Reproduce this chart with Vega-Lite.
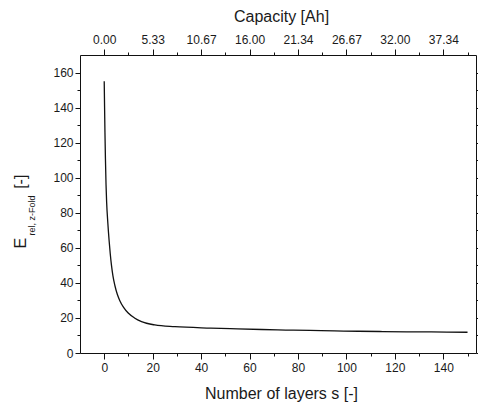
{
  "$schema": "https://vega.github.io/schema/vega-lite/v6.json",
  "width": 396,
  "height": 298,
  "autosize": {"type": "none"},
  "padding": {"left": 80, "top": 55, "right": 2, "bottom": 52},
  "background": "white",
  "config": {
    "view": {"stroke": null},
    "font": "Liberation Sans",
    "axis": {
      "domainColor": "#111",
      "tickColor": "#111",
      "labelColor": "#1a1a1a",
      "titleColor": "#1a1a1a",
      "labelFont": "Liberation Sans",
      "titleFont": "Liberation Sans",
      "labelFontSize": 12,
      "titleFontSize": 16,
      "titleFontWeight": "normal",
      "grid": false,
      "domainWidth": 1,
      "tickWidth": 1
    }
  },
  "data": {
    "values": [
      {"s": 0, "E": 155},
      {"s": 0.15, "E": 140},
      {"s": 0.3, "E": 126},
      {"s": 0.5, "E": 111},
      {"s": 0.75, "E": 96},
      {"s": 1.0, "E": 86},
      {"s": 1.5, "E": 74},
      {"s": 2.0, "E": 64.5},
      {"s": 2.5, "E": 56.5},
      {"s": 3.0, "E": 50},
      {"s": 3.6, "E": 44},
      {"s": 4.4, "E": 38.5},
      {"s": 5.4, "E": 33.5},
      {"s": 6.4, "E": 30},
      {"s": 8.0, "E": 26},
      {"s": 9.9, "E": 22.8},
      {"s": 12.5, "E": 20},
      {"s": 15.4, "E": 17.9},
      {"s": 20.9, "E": 16.0},
      {"s": 29.2, "E": 15.0},
      {"s": 44, "E": 14.2},
      {"s": 55, "E": 13.75},
      {"s": 65, "E": 13.4},
      {"s": 75, "E": 13.1},
      {"s": 85, "E": 12.85},
      {"s": 95, "E": 12.6},
      {"s": 105, "E": 12.4},
      {"s": 115, "E": 12.25},
      {"s": 125, "E": 12.1},
      {"s": 135, "E": 12.0},
      {"s": 150, "E": 11.85}
    ]
  },
  "layer": [
    {
      "mark": {"type": "line", "color": "#111", "strokeWidth": 1.3, "interpolate": "monotone"},
      "encoding": {
        "x": {
          "field": "s",
          "type": "quantitative",
          "scale": {"domain": [-10, 153.5], "nice": false, "zero": false},
          "axis": {
            "orient": "bottom",
            "values": [0, 10, 20, 30, 40, 50, 60, 70, 80, 90, 100, 110, 120, 130, 140, 150],
            "tickSize": {"condition": {"test": "datum.value % 20 === 0", "value": 6}, "value": 3},
            "labelExpr": "datum.value % 20 === 0 ? datum.label : ''",
            "labelPadding": 3,
            "title": "Number of layers s [-]",
            "titleX": 201,
            "titleY": 45,
            "titleBaseline": "alphabetic"
          }
        },
        "y": {
          "field": "E",
          "type": "quantitative",
          "scale": {"domain": [0, 170], "nice": false},
          "axis": {
            "orient": "left",
            "values": [0, 10, 20, 30, 40, 50, 60, 70, 80, 90, 100, 110, 120, 130, 140, 150, 160],
            "tickSize": {"condition": {"test": "datum.value % 20 === 0", "value": 5}, "value": 3},
            "labelExpr": "datum.value % 20 === 0 ? datum.label : ''",
            "labelPadding": 2,
            "title": "E\u00a0\u00a0\u00a0\u00a0\u00a0\u00a0\u00a0\u00a0\u00a0\u00a0\u00a0[-]",
            "titleAngle": 270,
            "titleX": -55,
            "titleY": 156,
            "titleAlign": "center",
            "titleBaseline": "alphabetic"
          }
        }
      }
    },
    {
      "mark": {"type": "line", "opacity": 0},
      "encoding": {
        "x": {
          "field": "s",
          "type": "quantitative",
          "scale": {"domain": [-10, 153.5], "nice": false, "zero": false},
          "axis": {
            "orient": "top",
            "values": [0, 10, 20, 30, 40, 50, 60, 70, 80, 90, 100, 110, 120, 130, 140, 150],
            "tickSize": {"condition": {"test": "datum.value % 20 === 0", "value": 6}, "value": 3},
            "labelExpr": "datum.value % 20 === 0 ? format(datum.value * 0.2667, '.2f') : ''",
            "labelPadding": 3,
            "title": "Capacity [Ah]",
            "titleX": 201,
            "titleY": -33.5,
            "titleBaseline": "alphabetic"
          }
        },
        "y": {
          "field": "E",
          "type": "quantitative",
          "scale": {"domain": [0, 170], "nice": false},
          "axis": {
            "orient": "right",
            "values": [0, 10, 20, 30, 40, 50, 60, 70, 80, 90, 100, 110, 120, 130, 140, 150, 160],
            "tickSize": {"condition": {"test": "datum.value % 20 === 0", "value": 5}, "value": 3},
            "labels": false,
            "title": "rel, z-Fold",
            "titleFontSize": 9,
            "titleAngle": 270,
            "titleX": -442,
            "titleY": 160,
            "titleAlign": "center",
            "titleBaseline": "alphabetic"
          }
        }
      }
    }
  ],
  "resolve": {"axis": {"x": "independent", "y": "independent"}}
}
